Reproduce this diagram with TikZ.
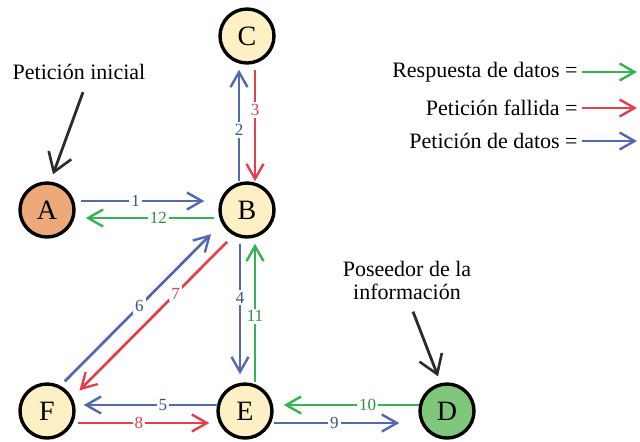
\documentclass[tikz,border=0pt]{standalone}
\usepackage{fontspec}
\setmainfont{Liberation Serif}
\usetikzlibrary{arrows.meta}
\definecolor{azul}{HTML}{5468AE}
\definecolor{azultxt}{HTML}{34558A}
\definecolor{rojo}{HTML}{E2404E}
\definecolor{verde}{HTML}{35B350}
\definecolor{crema}{HTML}{FDF0C4}
\definecolor{naranja}{HTML}{EDAA78}
\definecolor{verdeclaro}{HTML}{7FC77B}
\definecolor{gris}{HTML}{2B2B2B}

\begin{document}
\begin{tikzpicture}[x=0.5pt, y=-0.5pt,
    host/.style={circle, draw=black, line width=1.7pt, fill=crema,
        minimum size=27pt, inner sep=0pt, font=\fontsize{14}{14}\selectfont},
    flecha/.style={line width=1.35pt,
        -{Straight Barb[length=7.5pt, width=8.5pt, line width=1.2pt]}},
    peticion/.style={flecha, azul},
    fallida/.style={flecha, rojo},
    respuesta/.style={flecha, verde},
    num/.style={fill=white, inner sep=1pt, font=\fontsize{8.5}{8.5}\selectfont},
    nota/.style={line width=1.4pt, gris,
        -{Straight Barb[length=9pt, width=12pt, line width=1.3pt]}},
    texto/.style={font=\fontsize{11}{11.5}\selectfont, inner sep=0pt}]
    \useasboundingbox (0,0) rectangle (640,441);

    % hosts
    \node[host] (C) at (247,36) {C};
    \node[host, fill=naranja] (A) at (47,210) {A};
    \node[host] (B) at (247,210) {B};
    \node[host] (F) at (47,411) {F};
    \node[host] (E) at (245,411) {E};
    \node[host, fill=verdeclaro] (D) at (447,411) {D};

    % A <-> B
    \draw [peticion, shorten <=2.5pt, shorten >=7pt] ([yshift=4.5pt]A.east) -- ([yshift=4.5pt]B.west)
        node[num, pos=0.42, text=azultxt]{1};
    \draw [respuesta, shorten <=2pt, shorten >=5pt] ([yshift=-4pt]B.west) -- ([yshift=-4pt]A.east)
        node[num, pos=0.42, text=verde!80!black]{12};
    % B <-> C
    \draw [peticion, shorten >=2.5pt] ([xshift=-4pt]B.north) -- ([xshift=-4pt]C.south)
        node[num, pos=0.44, text=azultxt]{2};
    \draw [fallida, shorten <=2.5pt] ([xshift=4pt]C.south) -- ([xshift=4pt]B.north)
        node[num, pos=0.39, text=rojo]{3};
    % B <-> E
    \draw [peticion, shorten <=2.5pt, shorten >=4pt] ([xshift=-3.5pt]B.south) -- ([xshift=-2.5pt]E.north)
        node[num, pos=0.41, text=azultxt]{4};
    \draw [respuesta, shorten >=2.5pt] ([xshift=5pt]E.north) -- ([xshift=4pt]B.south)
        node[num, pos=0.46, text=verde!80!black]{11};
    % F <-> B
    \draw [peticion, shorten <=3pt, shorten >=7.5pt] (F.62) -- (B.208)
        node[num, pos=0.49, text=azultxt]{6};
    \draw [fallida, shorten <=4.5pt, shorten >=5pt] (B.242) -- (F.28)
        node[num, pos=0.36, text=rojo]{7};
    % E <-> F
    \draw [peticion, shorten <=-1pt, shorten >=4pt] ([yshift=3pt]E.west) -- ([yshift=3pt]F.east)
        node[num, pos=0.38, text=azultxt]{5};
    \draw [fallida, shorten <=1pt, shorten >=3.5pt] ([yshift=-6pt]F.east) -- ([yshift=-6pt]E.west)
        node[num, pos=0.45, text=rojo]{8};
    % D <-> E
    \draw [respuesta, shorten <=-0.5pt, shorten >=5pt] ([yshift=3pt]D.west) -- ([yshift=3pt]E.east)
        node[num, pos=0.35, text=verde!80!black]{10};
    \draw [peticion, shorten >=9.5pt] ([yshift=-6pt]E.east) -- ([yshift=-6pt]D.west)
        node[num, pos=0.42, text=azultxt]{9};

    % notes
    \node[texto] (inicial) at (79,72) {Petición inicial};
    \draw [nota] ([xshift=2pt, yshift=-6pt]inicial.south) -- ([xshift=3pt, yshift=3.5pt]A.north);
    \node[texto, align=center] (poseedor) at (407,280) {Poseedor de la\\información};
    \draw [nota] ([xshift=3pt, yshift=-6pt]poseedor.south) -- ([xshift=-4.5pt, yshift=3pt]D.north);

    % legend
    \node[texto, anchor=east] (resp) at (578,72) {Respuesta de datos =};
    \node[texto, anchor=east] (fall) at (578,108) {Petición fallida =};
    \node[texto, anchor=east] (pet) at (578,141) {Petición de datos =};
    \coordinate (resp end) at (637,72);
    \coordinate (fall end) at (637,108);
    \coordinate (pet end) at (637,141);
    \draw [respuesta, shorten <=2pt] (resp.east) -- (resp end);
    \draw [fallida, shorten <=2pt] (fall.east) -- (fall end);
    \draw [peticion, shorten <=2pt] (pet.east) -- (pet end);
\end{tikzpicture}
\end{document}
